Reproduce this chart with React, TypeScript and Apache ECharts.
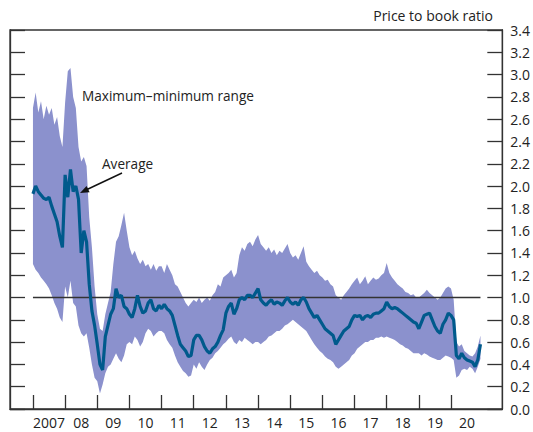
import React, { useEffect, useRef } from 'react';
import * as echarts from 'echarts';

const startYear = 2007;
const yearTicks = [2007, 2008, 2009, 2010, 2011, 2012, 2013, 2014, 2015, 2016, 2017, 2018, 2019, 2020];
const yearLabels = ['2007', '08', '09', '10', '11', '12', '13', '14', '15', '16', '17', '18', '19', '20'];
const refLevel = 1.0;

// Monthly values, Jan 2007 – Dec 2020
const maxVals = [
  2.70, 2.84, 2.66, 2.76, 2.60, 2.72, 2.64, 2.70, 2.55, 2.62, 2.45, 2.35,
  2.75, 3.03, 3.06, 2.80, 2.70, 2.35, 2.22, 2.26, 2.18, 1.72, 1.45, 1.10,
  0.85, 0.72, 0.70, 0.85, 0.95, 1.05, 1.30, 1.50, 1.55, 1.65, 1.76, 1.60,
  1.45, 1.38, 1.42, 1.35, 1.30, 1.34, 1.28, 1.30, 1.25, 1.30, 1.24, 1.28,
  1.28, 1.22, 1.30, 1.25, 1.20, 1.12, 1.10, 1.05, 1.00, 0.95, 0.92, 0.95,
  0.98, 0.96, 1.00, 0.95, 0.98, 1.00, 0.97, 1.02, 1.05, 1.12, 1.10, 1.18,
  1.20, 1.22, 1.25, 1.18, 1.22, 1.38, 1.45, 1.42, 1.48, 1.50, 1.46, 1.52,
  1.56, 1.48, 1.45, 1.42, 1.45, 1.40, 1.43, 1.38, 1.42, 1.40, 1.44, 1.48,
  1.40, 1.36, 1.38, 1.34, 1.40, 1.46, 1.32, 1.28, 1.25, 1.22, 1.24, 1.20,
  1.18, 1.15, 1.16, 1.12, 1.10, 1.02, 1.00, 0.98, 1.02, 1.05, 1.08, 1.12,
  1.15, 1.18, 1.12, 1.15, 1.19, 1.12, 1.15, 1.18, 1.16, 1.17, 1.20, 1.22,
  1.31, 1.22, 1.18, 1.15, 1.12, 1.10, 1.08, 1.05, 1.04, 1.02, 1.03, 1.00,
  1.00, 1.02, 1.04, 1.07, 1.04, 1.02, 1.00, 0.98, 1.00, 1.04, 1.08, 1.10,
  1.08, 0.98, 0.60, 0.56, 0.58, 0.52, 0.50, 0.48, 0.47, 0.50, 0.56, 0.66,
];

const minVals = [
  1.30, 1.25, 1.22, 1.18, 1.15, 1.12, 1.08, 1.02, 0.95, 0.90, 0.82, 0.78,
  1.10, 1.00, 1.15, 0.95, 0.92, 0.75, 0.68, 0.65, 0.68, 0.55, 0.40, 0.28,
  0.25, 0.14, 0.22, 0.32, 0.38, 0.40, 0.45, 0.50, 0.45, 0.42, 0.48, 0.58,
  0.60, 0.58, 0.65, 0.62, 0.56, 0.60, 0.68, 0.72, 0.70, 0.65, 0.68, 0.70,
  0.70, 0.68, 0.62, 0.58, 0.55, 0.48, 0.42, 0.38, 0.34, 0.32, 0.29, 0.30,
  0.40, 0.36, 0.42, 0.38, 0.35, 0.40, 0.44, 0.46, 0.50, 0.52, 0.55, 0.58,
  0.60, 0.63, 0.65, 0.60, 0.58, 0.62, 0.60, 0.64, 0.62, 0.60, 0.58, 0.60,
  0.60, 0.58, 0.60, 0.62, 0.65, 0.66, 0.68, 0.70, 0.70, 0.72, 0.75, 0.76,
  0.78, 0.80, 0.78, 0.76, 0.74, 0.72, 0.70, 0.66, 0.62, 0.58, 0.55, 0.52,
  0.50, 0.47, 0.45, 0.44, 0.42, 0.38, 0.36, 0.38, 0.40, 0.42, 0.44, 0.48,
  0.50, 0.54, 0.56, 0.58, 0.60, 0.60, 0.62, 0.62, 0.64, 0.64, 0.65, 0.64,
  0.65, 0.64, 0.63, 0.62, 0.60, 0.58, 0.57, 0.55, 0.54, 0.52, 0.50, 0.50,
  0.50, 0.48, 0.50, 0.49, 0.47, 0.46, 0.45, 0.44, 0.44, 0.46, 0.48, 0.47,
  0.46, 0.44, 0.28, 0.30, 0.35, 0.36, 0.35, 0.38, 0.36, 0.32, 0.38, 0.45,
];

const avgVals = [
  1.93, 2.00, 1.95, 1.92, 1.89, 1.88, 1.90, 1.82, 1.75, 1.68, 1.55, 1.45,
  2.10, 1.90, 2.15, 1.95, 2.00, 1.88, 1.40, 1.60, 1.50, 1.12, 0.88, 0.75,
  0.58, 0.40, 0.35, 0.65, 0.75, 0.85, 0.90, 1.08, 1.00, 1.02, 0.92, 0.90,
  0.85, 0.82, 0.90, 1.02, 0.92, 0.86, 0.88, 0.95, 0.98, 0.90, 0.88, 0.93,
  0.90, 0.94, 0.90, 0.88, 0.84, 0.75, 0.66, 0.58, 0.55, 0.52, 0.47, 0.48,
  0.62, 0.66, 0.66, 0.62, 0.56, 0.52, 0.50, 0.54, 0.56, 0.60, 0.66, 0.71,
  0.86, 0.92, 0.95, 0.85, 0.90, 0.98, 1.00, 0.98, 1.02, 1.02, 1.00, 1.04,
  1.08, 0.98, 0.95, 0.93, 0.96, 0.98, 0.94, 0.96, 0.95, 0.93, 0.97, 1.00,
  0.96, 0.94, 0.96, 0.93, 0.98, 1.00, 0.96, 0.90, 0.86, 0.82, 0.84, 0.80,
  0.76, 0.72, 0.70, 0.68, 0.66, 0.58, 0.62, 0.66, 0.70, 0.72, 0.74, 0.80,
  0.84, 0.83, 0.84, 0.80, 0.83, 0.84, 0.82, 0.85, 0.86, 0.86, 0.88, 0.90,
  0.96, 0.92, 0.90, 0.91, 0.90, 0.88, 0.86, 0.84, 0.82, 0.80, 0.78, 0.77,
  0.72, 0.78, 0.84, 0.85, 0.86, 0.80, 0.74, 0.70, 0.68, 0.76, 0.80, 0.86,
  0.84, 0.80, 0.48, 0.45, 0.50, 0.46, 0.44, 0.43, 0.42, 0.38, 0.44, 0.58,
];

const FONT = 'Open Sans';
const TEXT = '#222';
const AXIS = '#333';
const BAND = '#8b91cd';
const AVG = '#005a8c';

export default function App() {
  const ref = useRef<HTMLDivElement>(null);

  useEffect(() => {
    const chart = echarts.init(ref.current as HTMLDivElement, null, { renderer: 'svg' });
    const t = (i: number) => startYear + i / 12;
    const bandData = maxVals.map((v, i) => [t(i), minVals[i], v]);
    const avgData = avgVals.map((v, i) => [t(i), v]);
    const lastT = t(avgVals.length - 1);

    const yCommon = {
      type: 'value',
      min: 0,
      max: 3.4,
      interval: 0.2,
      splitLine: { show: false },
      axisLine: { show: true, lineStyle: { color: AXIS, width: 1.3 } },
      axisTick: { show: true, inside: true, length: 15, lineStyle: { color: AXIS, width: 1.3 } },
    };

    chart.setOption({
      animation: false,
      grid: {
        left: 10, right: 30, top: 30, bottom: 23,
        show: true, borderColor: AXIS, borderWidth: 1.3, backgroundColor: 'transparent',
      },
      xAxis: {
        type: 'value',
        min: 2006.286,
        max: 2021.596,
        splitLine: { show: false },
        axisLine: { show: true, onZero: false, lineStyle: { color: AXIS, width: 1.3 } },
        axisTick: {
          show: true, inside: true, length: 14, customValues: yearTicks,
          lineStyle: { color: AXIS, width: 1.3 },
        },
        axisLabel: {
          show: true,
          customValues: yearTicks.map((y) => y + 0.5),
          formatter: (v: number) => yearLabels[Math.round(v - 0.5) - startYear] ?? '',
          fontFamily: FONT, fontSize: 14, color: TEXT, margin: 6,
        },
      },
      yAxis: [
        { ...yCommon, position: 'left', axisLabel: { show: false } },
        {
          ...yCommon, position: 'right',
          axisLabel: {
            show: true, fontFamily: FONT, fontSize: 14, color: TEXT, margin: 8,
            formatter: (v: number) => v.toFixed(1),
          },
        },
      ],
      series: [
        {
          name: 'Maximum–minimum range',
          type: 'custom',
          yAxisIndex: 1,
          silent: true,
          data: bandData,
          encode: { x: 0, y: [1, 2] },
          renderItem: (params: any, api: any) => {
            if (params.dataIndex !== 0) return null;
            const upper = bandData.map((d) => api.coord([d[0], d[2]]));
            const lower = bandData.map((d) => api.coord([d[0], d[1]])).reverse();
            return {
              type: 'polygon',
              shape: { points: upper.concat(lower) },
              style: { fill: BAND, stroke: 'none' },
            };
          },
        },
        {
          name: 'ref', type: 'line', yAxisIndex: 1,
          data: [[startYear, refLevel], [lastT, refLevel]],
          symbol: 'none', lineStyle: { color: AXIS, width: 1.4 }, silent: true,
        },
        {
          name: 'Average', type: 'line', yAxisIndex: 1, data: avgData,
          symbol: 'none', lineStyle: { color: AVG, width: 3.2 }, silent: true,
        },
      ],
      graphic: [
        {
          type: 'text', right: 40, top: 8, z: 100,
          style: { text: 'Price to book ratio', fontFamily: FONT, fontSize: 14, fill: TEXT },
        },
        {
          type: 'text', left: 82, top: 88, z: 100,
          style: { text: 'Maximum–minimum range', fontFamily: FONT, fontSize: 13.6, fill: TEXT },
        },
        {
          type: 'text', left: 102, top: 156, z: 100,
          style: { text: 'Average', fontFamily: FONT, fontSize: 13.6, fill: TEXT },
        },
        {
          type: 'line', z: 100,
          shape: { x1: 122, y1: 173, x2: 87, y2: 189.5 },
          style: { stroke: '#111', lineWidth: 1.4 },
        },
        {
          type: 'polygon', z: 100,
          shape: { points: [[80, 193], [89.6, 192.3], [86.6, 186]] },
          style: { fill: '#111' },
        },
      ],
    });

    return () => chart.dispose();
  }, []);

  return (
    <div
      ref={ref}
      style={{ position: 'absolute', left: 0, top: 0, width: 533, height: 432, background: '#fff' }}
    />
  );
}
